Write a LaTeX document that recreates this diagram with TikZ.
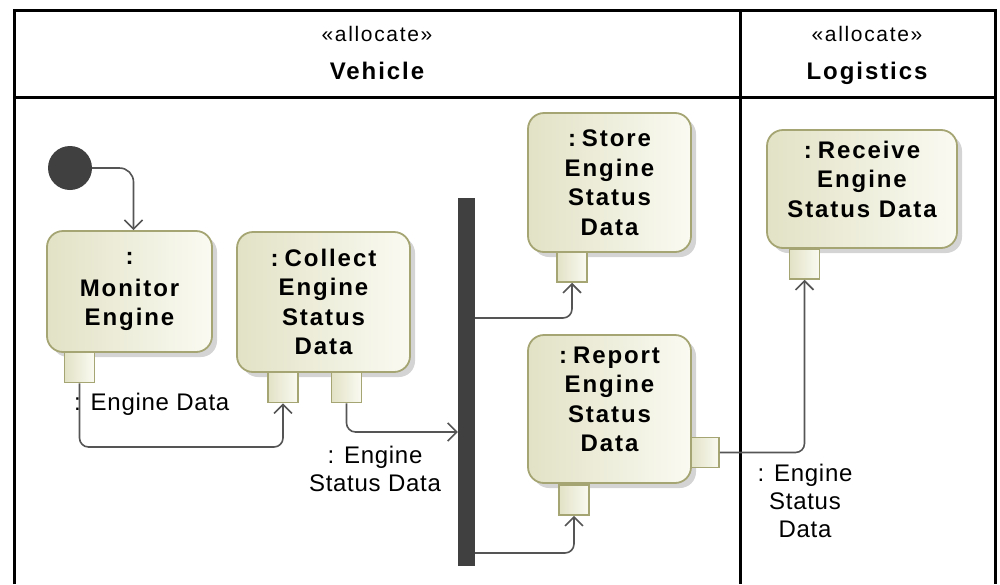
\documentclass[tikz,border=0pt]{standalone}
\usepackage{fontspec}
\setmainfont{Liberation Sans}
\newfontfamily\spfam[LetterSpace=8]{Liberation Sans}
\newfontfamily\lblfam[LetterSpace=3]{Liberation Sans}
\usetikzlibrary{arrows.meta,shadows}
\definecolor{actL}{RGB}{226,226,198}
\definecolor{actR}{RGB}{250,250,242}
\definecolor{actB}{RGB}{165,165,115}
\definecolor{conn}{RGB}{85,85,85}
\definecolor{bar}{RGB}{64,64,64}
\newcommand{\cs}{:\hspace{6pt}}
\tikzset{
  act/.style={draw=actB, line width=1.8pt, rounded corners=16pt, left color=actL, right color=actR,
    drop shadow={shadow xshift=5pt, shadow yshift=-5pt, fill=black!28, opacity=0.6},
    align=center, inner sep=0pt, font=\spfam\bfseries\fontsize{24}{29.5}\selectfont},
  pinbox/.style={draw=actB, line width=1.5pt, left color=actL, right color=actR,
    minimum width=30pt, minimum height=30pt, inner sep=0pt},
  flow/.style={draw=conn, line width=1.6pt, rounded corners=9pt, -{Straight Barb[length=9pt,width=18pt]}},
  lane/.style={draw=black, line width=3pt},
  lbl/.style={font=\lblfam\fontsize{24}{28}\selectfont, align=center, inner sep=0pt},
  hdr/.style={font=\spfam\fontsize{21}{24}\selectfont, inner sep=0pt, anchor=base},
  hdrb/.style={font=\spfam\bfseries\fontsize{24}{28}\selectfont, inner sep=0pt, anchor=base}
}
\begin{document}
\begin{tikzpicture}[x=1pt,y=-1pt]
\useasboundingbox (0,0) rectangle (1000,584);
% swimlanes
\draw[lane] (14,584) -- (14,10) -- (995,10) -- (995,584);
\draw[lane] (14,97) -- (995,97);
\draw[lane] (740,10) -- (740,584);
\node[hdr] (st1) at (377,41) {«allocate»};
\node[hdrb] (ln1) at (377,79) {Vehicle};
\node[hdr] (st2) at (867,41) {«allocate»};
\node[hdrb] (ln2) at (867,79) {Logistics};
% initial node
\node[circle, fill=bar, minimum size=44pt, inner sep=0pt] (init) at (70,168) {};
% actions
\node[act, minimum width=165pt, minimum height=121pt] (mon) at (129.5,291.5) {:\\[2pt]Monitor\\Engine};
\node[act, minimum width=173pt, minimum height=140pt] (col) at (323.5,302) {\cs Collect\\Engine\\Status\\Data};
\node[act, minimum width=163pt, minimum height=139pt] (sto) at (609.5,182.5) {\cs Store\\Engine\\Status\\Data};
\node[act, minimum width=163pt, minimum height=148pt] (rep) at (609.5,409) {\cs Report\\Engine\\Status\\Data\\[-10pt]};
\node[act, minimum width=190pt, minimum height=118pt] (rec) at (862,189) {\cs Receive\\Engine\\Status Data\\[-10pt]};
% pins
\node[pinbox] (mp) at (79.5,367.5) {};
\node[pinbox] (cp1) at (283,387.5) {};
\node[pinbox] (cp2) at (346.5,387.5) {};
\node[pinbox] (sp) at (572,267) {};
\node[pinbox] (rp) at (574,500) {};
\node[pinbox, minimum width=28pt] (rrp) at (705,452.5) {};
\node[pinbox] (recp) at (804.5,264) {};
% fork
\node[fill=bar, minimum width=17pt, minimum height=368pt, inner sep=0pt] (fork) at (466.5,382) {};
% helper coordinates
\coordinate (y1) at (0,447);
\coordinate (y2) at (0,432);
\coordinate (y3) at (0,318);
\coordinate (y4) at (0,553);
% flows
\draw[flow, rounded corners=14pt] (init.east) -| ([xshift=4pt]mon.north);
\draw[flow] (mp.south) -- (mp.south |- y1) -| (cp1.south);
\draw[flow] (cp2.south) |- (fork.west |- y2);
\draw[flow] (fork.east |- y3) -| (sp.south);
\draw[flow] (fork.east |- y4) -| (rp.south);
\draw[flow] (rrp.east) -| (recp.south);
% labels
\node[lbl, anchor=west] (l1) at (74,404) {: Engine Data};
\node[lbl] (l2) at (375,469) {: Engine\\Status Data};
\node[lbl] (l3) at (805,501) {: Engine\\Status\\Data};
\end{tikzpicture}
\end{document}
